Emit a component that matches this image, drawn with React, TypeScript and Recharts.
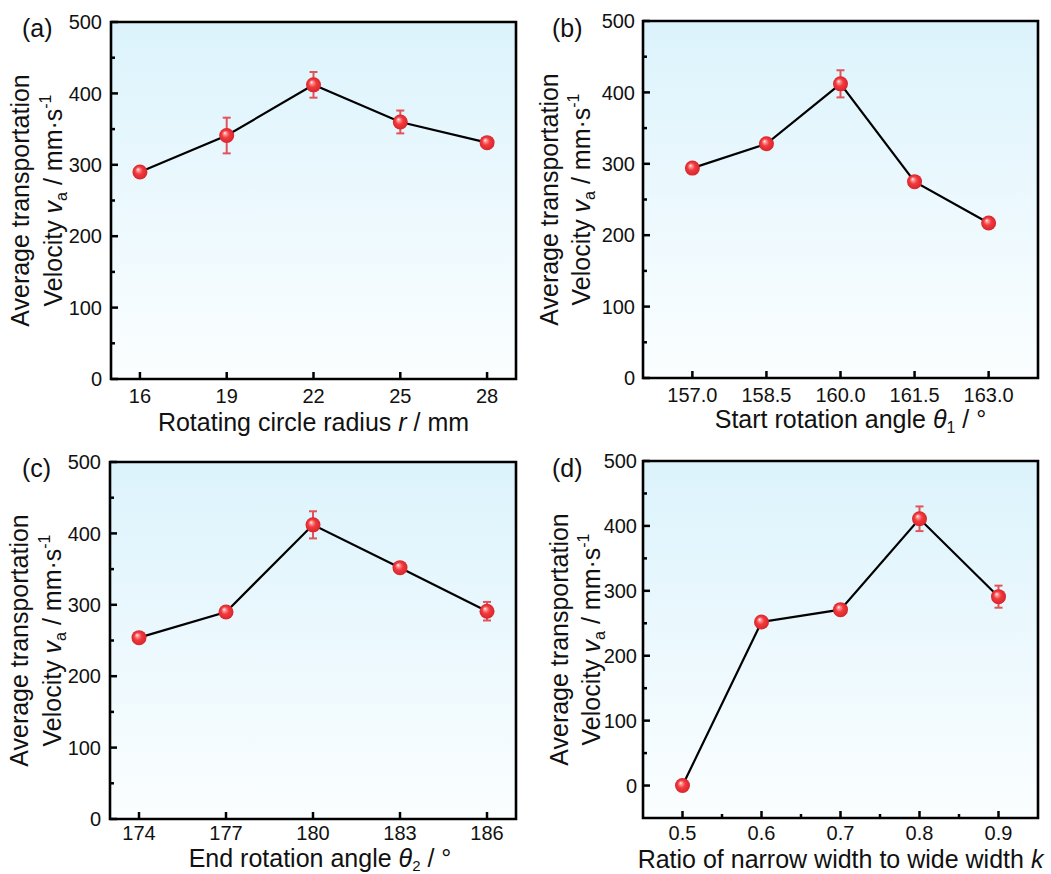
import React from 'react';
import { ComposedChart, Line, XAxis, YAxis, CartesianGrid, ReferenceArea, ErrorBar } from 'recharts';

const FONT = '"Liberation Sans", Arial, Helvetica, sans-serif';

// ---- data ----
const radiusX = [16, 19, 22, 25, 28];
const radiusV = [290, 341, 412, 360, 331];
const radiusErr = [4, 25, 18, 16, 5];

const startX = [157.0, 158.5, 160.0, 161.5, 163.0];
const startV = [294, 328, 412, 275, 217];
const startErr = [4, 5, 19, 4, 5];

const endX = [174, 177, 180, 183, 186];
const endV = [254, 290, 412, 352, 291];
const endErr = [4, 7, 19, 5, 13];

const ratioX = [0.5, 0.6, 0.7, 0.8, 0.9];
const ratioV = [0, 252, 271, 411, 291];
const ratioErr = [0, 3, 4, 19, 17];

const yTicks = [0, 50, 100, 150, 200, 250, 300, 350, 400, 450, 500];
const radiusTicks = [16, 19, 22, 25, 28];
const startTicks = [157.0, 158.5, 160.0, 161.5, 163.0];
const endTicks = [174, 177, 180, 183, 186];
const ratioTicks = [0.5, 0.55, 0.6, 0.65, 0.7, 0.75, 0.8, 0.85, 0.9];

const build = (xs: number[], vs: number[], es: number[]) =>
  xs.map((x, i) => ({ x, v: vs[i], err: es[i] }));

type Cfg = {
  left: number; top: number; width: number; height: number;
  yAxisWidth: number; marginTop: number; marginRight: number; xAxisHeight: number;
  xDomain: [number, number]; yDomain: [number, number];
  xTicks: number[]; isMajorX: (v: number) => boolean; fmtX: (v: number) => string;
  data: { x: number; v: number; err: number }[];
  panel: string; panelX: number;
  yGap: number; yT1: number; yT2: number; xTickDy: number;
  xTitle: React.ReactNode; xTitleDx: number; xTitleDy: number;
};

const TXT = '#111';

const YTick = (props: any) => {
  const { x, y, payload, gap } = props;
  const v = payload.value as number;
  const major = v % 100 === 0;
  return (
    <g>
      <line x1={x} x2={x + (major ? 7 : 4)} y1={y} y2={y} stroke="#000" strokeWidth={2.5} />
      {major && (
        <text x={x - gap} y={y} dy="0.36em" textAnchor="end" fontSize={20} fontFamily={FONT} fill={TXT}>
          {v}
        </text>
      )}
    </g>
  );
};

const XTick = (props: any) => {
  const { x, y, payload, isMajor, fmt, labelDy } = props;
  const v = payload.value as number;
  const major = isMajor(v);
  return (
    <g>
      <line x1={x} x2={x} y1={y} y2={y - (major ? 7 : 4)} stroke="#000" strokeWidth={2.5} />
      {major && (
        <text x={x} y={y + labelDy} textAnchor="middle" fontSize={20} fontFamily={FONT} fill={TXT}>
          {fmt(v)}
        </text>
      )}
    </g>
  );
};

const renderDot = (p: any) => (
  <circle key={`dot-${p.index}`} cx={p.cx} cy={p.cy} r={7.5} fill="url(#sphereGrad)" />
);

const Panel = ({ cfg }: { cfg: Cfg }) => {
  const plotLeft = cfg.yAxisWidth;
  const plotTop = cfg.marginTop;
  const plotRight = cfg.width - cfg.marginRight;
  const plotBottom = cfg.height - cfg.xAxisHeight;
  const cy = (plotTop + plotBottom) / 2;
  const cx = (plotLeft + plotRight) / 2;

  const yTitle = () => (
    <g fontFamily={FONT} fontSize={25} fill={TXT}>
      <text x={cfg.panelX} y={37} fontSize={25}>{cfg.panel}</text>
      <text
        x={plotLeft - cfg.yT1}
        y={cy}
        textAnchor="middle"
        transform={`rotate(-90 ${plotLeft - cfg.yT1} ${cy})`}
      >
        Average transportation
      </text>
      <text
        x={plotLeft - cfg.yT2}
        y={cy}
        textAnchor="middle"
        transform={`rotate(-90 ${plotLeft - cfg.yT2} ${cy})`}
      >
        <tspan>Velocity </tspan>
        <tspan fontStyle="italic">v</tspan>
        <tspan fontSize={16} dy={5}>a</tspan>
        <tspan dy={-5}> / mm·s</tspan>
        <tspan fontSize={16} dy={-11}>-1</tspan>
      </text>
    </g>
  );

  const xTitle = () => (
    <text
      x={cx + cfg.xTitleDx}
      y={plotBottom + cfg.xTitleDy}
      textAnchor="middle"
      fontFamily={FONT}
      fontSize={25}
      fill={TXT}
    >
      {cfg.xTitle}
    </text>
  );

  return (
    <div style={{ position: 'absolute', left: cfg.left, top: cfg.top }}>
      <ComposedChart
        width={cfg.width}
        height={cfg.height}
        data={cfg.data}
        margin={{ top: cfg.marginTop, right: cfg.marginRight, bottom: 0, left: 0 }}
      >
        <CartesianGrid fill="url(#bgGrad)" horizontal={false} vertical={false} />
        <XAxis
          type="number"
          dataKey="x"
          domain={cfg.xDomain}
          ticks={cfg.xTicks}
          interval={0}
          allowDataOverflow
          height={cfg.xAxisHeight}
          tickSize={0}
          tickMargin={0}
          axisLine={false}
          tickLine={false}
          tick={(p: any) => <XTick {...p} isMajor={cfg.isMajorX} fmt={cfg.fmtX} labelDy={cfg.xTickDy} />}
          label={{ content: xTitle }}
        />
        <YAxis
          type="number"
          domain={cfg.yDomain}
          ticks={yTicks}
          interval={0}
          allowDataOverflow
          width={cfg.yAxisWidth}
          tickSize={0}
          tickMargin={0}
          axisLine={false}
          tickLine={false}
          tick={(p: any) => <YTick {...p} gap={cfg.yGap} />}
          label={{ content: yTitle }}
        />
        <ReferenceArea
          x1={cfg.xDomain[0]}
          x2={cfg.xDomain[1]}
          y1={cfg.yDomain[0]}
          y2={cfg.yDomain[1]}
          fill="none"
          fillOpacity={0}
          stroke="#000"
          strokeWidth={2.6}
          ifOverflow="visible"
        />
        <Line
          type="linear"
          dataKey="v"
          stroke="#000"
          strokeWidth={2.2}
          dot={renderDot}
          activeDot={false}
          isAnimationActive={false}
        >
          <ErrorBar dataKey="err" direction="y" width={4} stroke="#e0545a" strokeWidth={2} isAnimationActive={false} />
        </Line>
      </ComposedChart>
    </div>
  );
};

const all = (_v: number) => true;
const tenth = (v: number) => Math.abs(Math.round(v * 10) - v * 10) < 1e-6;

const panels: Cfg[] = [
  {
    left: 0, top: 0, width: 520, height: 440,
    yAxisWidth: 111, marginTop: 22, marginRight: 4, xAxisHeight: 61,
    xDomain: [15, 29], yDomain: [0, 500],
    xTicks: radiusTicks, isMajorX: all, fmtX: (v) => String(v),
    data: build(radiusX, radiusV, radiusErr),
    panel: '(a)', panelX: 22, yGap: 9, yT1: 82, yT2: 49, xTickDy: 24,
    xTitle: (<><tspan>Rotating circle radius </tspan><tspan fontStyle="italic">r</tspan><tspan> / mm</tspan></>),
    xTitleDx: 0, xTitleDy: 52,
  },
  {
    left: 520, top: 0, width: 531, height: 440,
    yAxisWidth: 123, marginTop: 21, marginRight: 13, xAxisHeight: 62,
    xDomain: [156, 164], yDomain: [0, 500],
    xTicks: startTicks, isMajorX: all, fmtX: (v) => v.toFixed(1),
    data: build(startX, startV, startErr),
    panel: '(b)', panelX: 32, yGap: 8, yT1: 85, yT2: 53, xTickDy: 24,
    xTitle: (<><tspan>Start rotation angle </tspan><tspan fontStyle="italic">θ</tspan><tspan fontSize={16} dy={5}>1</tspan><tspan dy={-5}> / °</tspan></>),
    xTitleDx: 10, xTitleDy: 50,
  },
  {
    left: 0, top: 440, width: 520, height: 434,
    yAxisWidth: 110, marginTop: 22, marginRight: 4, xAxisHeight: 55,
    xDomain: [173, 187], yDomain: [0, 500],
    xTicks: endTicks, isMajorX: all, fmtX: (v) => String(v),
    data: build(endX, endV, endErr),
    panel: '(c)', panelX: 22, yGap: 9, yT1: 82, yT2: 49, xTickDy: 20.5,
    xTitle: (<><tspan>End rotation angle </tspan><tspan fontStyle="italic">θ</tspan><tspan fontSize={15} dy={4}>2</tspan><tspan dy={-4}> / °</tspan></>),
    xTitleDx: 7, xTitleDy: 47.5,
  },
  {
    left: 520, top: 440, width: 531, height: 434,
    yAxisWidth: 123, marginTop: 21, marginRight: 13, xAxisHeight: 56,
    xDomain: [0.45, 0.95], yDomain: [-50, 500],
    xTicks: ratioTicks, isMajorX: tenth, fmtX: (v) => v.toFixed(1),
    data: build(ratioX, ratioV, ratioErr),
    panel: '(d)', panelX: 32, yGap: 6, yT1: 75, yT2: 43, xTickDy: 22,
    xTitle: (<><tspan>Ratio of narrow width to wide width </tspan><tspan fontStyle="italic">k</tspan></>),
    xTitleDx: 0, xTitleDy: 50,
  },
];

export default function App() {
  return (
    <div style={{ position: 'absolute', left: 0, top: 0, width: 1051, height: 874, background: '#fff', overflow: 'hidden' }}>
      <svg width={0} height={0} style={{ position: 'absolute' }}>
        <defs>
          <linearGradient id="bgGrad" x1="0" y1="0" x2="0" y2="1">
            <stop offset="0%" stopColor="#dcf3fc" />
            <stop offset="100%" stopColor="#fbfeff" />
          </linearGradient>
          <radialGradient id="sphereGrad" cx="50%" cy="50%" r="50%" fx="36%" fy="32%">
            <stop offset="0%" stopColor="#ffffff" />
            <stop offset="18%" stopColor="#ff9a9a" />
            <stop offset="50%" stopColor="#f23a3e" />
            <stop offset="100%" stopColor="#d6262c" />
          </radialGradient>
        </defs>
      </svg>
      {panels.map((cfg) => (
        <Panel key={cfg.panel} cfg={cfg} />
      ))}
    </div>
  );
}
